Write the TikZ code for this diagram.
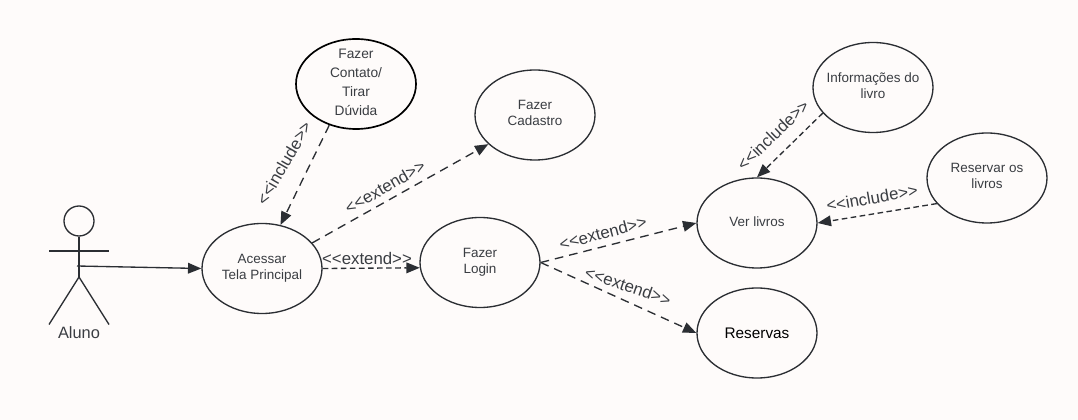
\documentclass[tikz,border=0pt]{standalone}
\usepackage{fontspec}
\setmainfont{Liberation Sans}
\usetikzlibrary{arrows.meta,shapes.geometric}
\definecolor{paper}{HTML}{FEFBFA}
\definecolor{ink}{HTML}{2B2E33}
\definecolor{txt}{HTML}{3A3D42}
\begin{document}
\begin{tikzpicture}[x=0.75pt,y=-0.75pt,line width=1pt,
      usecase/.style={draw=ink, ellipse, minimum width=90pt, minimum height=67.5pt, inner sep=-14pt,
        align=center, text=txt, font=\fontsize{10.1}{12}\selectfont},
      stereo/.style={text=txt, inner sep=0pt, font=\fontsize{12.6}{14}\selectfont},
      rel/.style={draw=ink, dashed, dash pattern=on 6.5pt off 4.5pt, -{Triangle[length=10pt,width=8pt]}},
      reltight/.style={rel, dash pattern=on 4.2pt off 2.6pt}
    ]
    \fill[paper] (0,0) rectangle (1078,420);

    % Actor
    \node[draw=ink, circle, minimum size=22.5pt, inner sep=0pt] (head) at (79,221) {};
    \coordinate (hip) at (79,277);
    \coordinate (hand) at (77,266);
    \draw[draw=ink] (head.south) -- (hip);
    \draw[draw=ink] (49,251) -- (109,251);
    \draw[draw=ink] (49,324.5) -- (hip) -- (109,324.5);
    \node[text=txt, inner sep=0pt, font=\fontsize{12.3}{14}\selectfont] (aluno) at (79,333) {Aluno};

    % Use cases
    \node[usecase] (acessar) at (262,268.5) {Acessar\\Tela Principal};
    \node[usecase, draw=black, line width=1.25pt, text depth=2.6pt, font=\fontsize{10.3}{14.2}\selectfont] (contato) at (356,84) {Fazer\\Contato/\\Tirar\\Dúvida};
    \node[usecase, text depth=2.6pt] (cadastro) at (535,115) {Fazer\\Cadastro};
    \node[usecase] (login) at (480,262.5) {Fazer\\Login};
    \node[usecase, text depth=1.5pt] (ver) at (757,223) {Ver livros};
    \node[usecase, text=black, font=\fontsize{11.5}{14}\selectfont] (reservas) at (757,333) {Reservas};
    \node[usecase, text depth=3.4pt] (info) at (873,87.5) {Informações do\\livro};
    \node[usecase, text depth=3.4pt] (reservar) at (987,178) {Reservar os\\livros};

    % Connectors
    \draw[draw=ink, -{Triangle[length=10pt,width=8pt]}] (hand) -- (acessar.west);
    \draw[rel] (contato.237) -- (acessar.67);
    \draw[rel] (acessar.27) -- (cadastro.212);
    \draw[reltight] (acessar.east) -- (login.185);
    \draw[rel] (login.east) -- (ver.west);
    \draw[rel] (login.east) -- (reservas.west);
    \draw[reltight] (info.207) -- (ver.north);
    \draw[reltight] (reservar.207) -- (ver.east);

    % Stereotypes
    \node[stereo, rotate=60] (l1) at (284,163) {<{}<include>{}>};
    \node[stereo, rotate=30] (l2) at (385,187) {<{}<extend>{}>};
    \node[stereo] (l3) at (367,258) {<{}<extend>{}>};
    \node[stereo, rotate=15] (l4) at (603,233) {<{}<extend>{}>};
    \node[stereo, rotate=-19] (l5) at (628,286) {<{}<extend>{}>};
    \node[stereo, rotate=44] (l6) at (773,135) {<{}<include>{}>};
    \node[stereo, rotate=10] (l7) at (872,198) {<{}<include>{}>};
    
    \end{tikzpicture}
\end{document}
